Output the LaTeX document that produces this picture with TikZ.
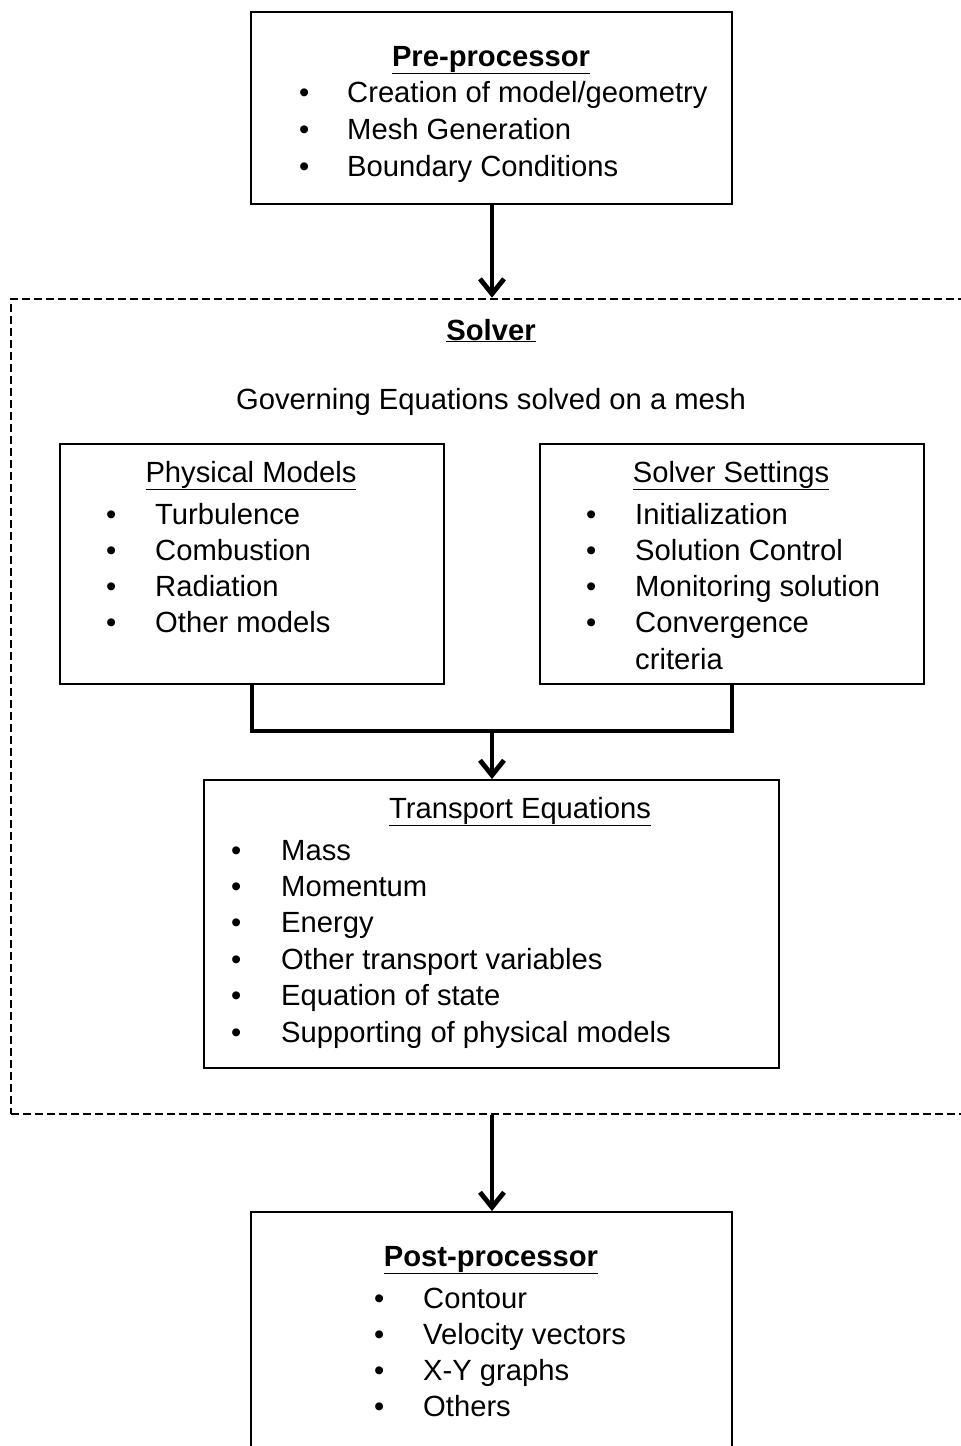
\documentclass[tikz,border=0pt]{standalone}
\usepackage{fontspec}
\setmainfont{Liberation Sans}
\usetikzlibrary{arrows.meta}
\begin{document}
\begin{tikzpicture}[x=1pt,y=-1pt,
  box/.style={draw=black, line width=1.8pt, inner sep=0pt},
  dbox/.style={draw=black, line width=2.6pt, dash pattern=on 8pt off 4pt, inner sep=0pt},
  arr/.style={line width=4.8pt, -{Straight Barb[length=15pt,width=24pt,line width=4.8pt]}},
  conn/.style={line width=4.6pt, line join=miter},
  txt/.style={anchor=base west, inner sep=0pt, font=\fontsize{29.2}{37}\selectfont},
  ctxt/.style={anchor=base, inner sep=0pt, font=\fontsize{29.2}{37}\selectfont}]
\useasboundingbox (0,0) rectangle (961,1446);
\clip (0,0) rectangle (961,1446);
% boxes
\node[box, minimum width=481pt, minimum height=192pt] (pre) at (491.5,108) {};
\node[dbox, minimum width=1000pt, minimum height=815pt] (solver) at (511,706.5) {};
\node[box, minimum width=384pt, minimum height=240pt] (phys) at (252,564) {};
\node[box, minimum width=384pt, minimum height=240pt] (sset) at (732,564) {};
\node[box, minimum width=575pt, minimum height=288pt] (trans) at (491.5,924) {};
\node[box, minimum width=481pt, minimum height=300pt] (post) at (491.5,1362) {};
% pre-processor
\node[ctxt] (pret) at (491,66) {\textbf{\underline{Pre-processor}}};
\foreach \i/\t [count=\k] in {0/{Creation of model/geometry},1/{Mesh Generation},2/{Boundary Conditions}}{
  \node[txt] (preb\k) at (299,{102+37*\i}) {•};
  \node[txt] (pre\k) at (347,{102+37*\i}) {\t};
}
% solver
\node[ctxt] (solt) at (491,340) {\textbf{\underline{Solver}}};
\node[ctxt] (gov) at (491,409) {Governing Equations solved on a mesh};
% physical models
\node[ctxt] (physt) at (251,482) {\underline{Physical Models}};
\foreach \i/\t [count=\k] in {0/Turbulence,1/Combustion,2/Radiation,3/{Other models}}{
  \node[txt] (physb\k) at (106,{524+36.3*\i}) {•};
  \node[txt] (phys\k) at (155,{524+36.3*\i}) {\t};
}
% solver settings
\node[ctxt] (ssett) at (731,482) {\underline{Solver Settings}};
\foreach \i/\t [count=\k] in {0/Initialization,1/{Solution Control},2/{Monitoring solution},3/{Convergence}}{
  \node[txt] (ssetb\k) at (586,{524+36.3*\i}) {•};
  \node[txt] (sset\k) at (635,{524+36.3*\i}) {\t};
}
\node[txt] (sset5) at (635,669) {criteria};
% transport
\node[ctxt] (transt) at (520,818) {\underline{Transport Equations}};
\foreach \i/\t [count=\k] in {0/Mass,1/Momentum,2/Energy,3/{Other transport variables},4/{Equation of state},5/{Supporting of physical models}}{
  \node[txt] (transb\k) at (231,{860+36.4*\i}) {•};
  \node[txt] (trans\k) at (281,{860+36.4*\i}) {\t};
}
% post
\node[ctxt] (postt) at (491,1266) {\textbf{\underline{Post-processor}}};
\foreach \i/\t [count=\k] in {0/Contour,1/{Velocity vectors},2/{X-Y graphs},3/Others}{
  \node[txt] (postb\k) at (374,{1308+36.3*\i}) {•};
  \node[txt] (post\k) at (423,{1308+36.3*\i}) {\t};
}
% connectors
\coordinate (j) at (492,731);
\draw[arr] (pre.south -| j) -- (j |- solver.north);
\draw[conn] (phys.south) -- (phys.south |- j) -- (sset.south |- j) -- (sset.south);
\draw[arr] (j) -- (j |- trans.north);
\draw[arr] (j |- solver.south) -- (j |- post.north);
\end{tikzpicture}
\end{document}
